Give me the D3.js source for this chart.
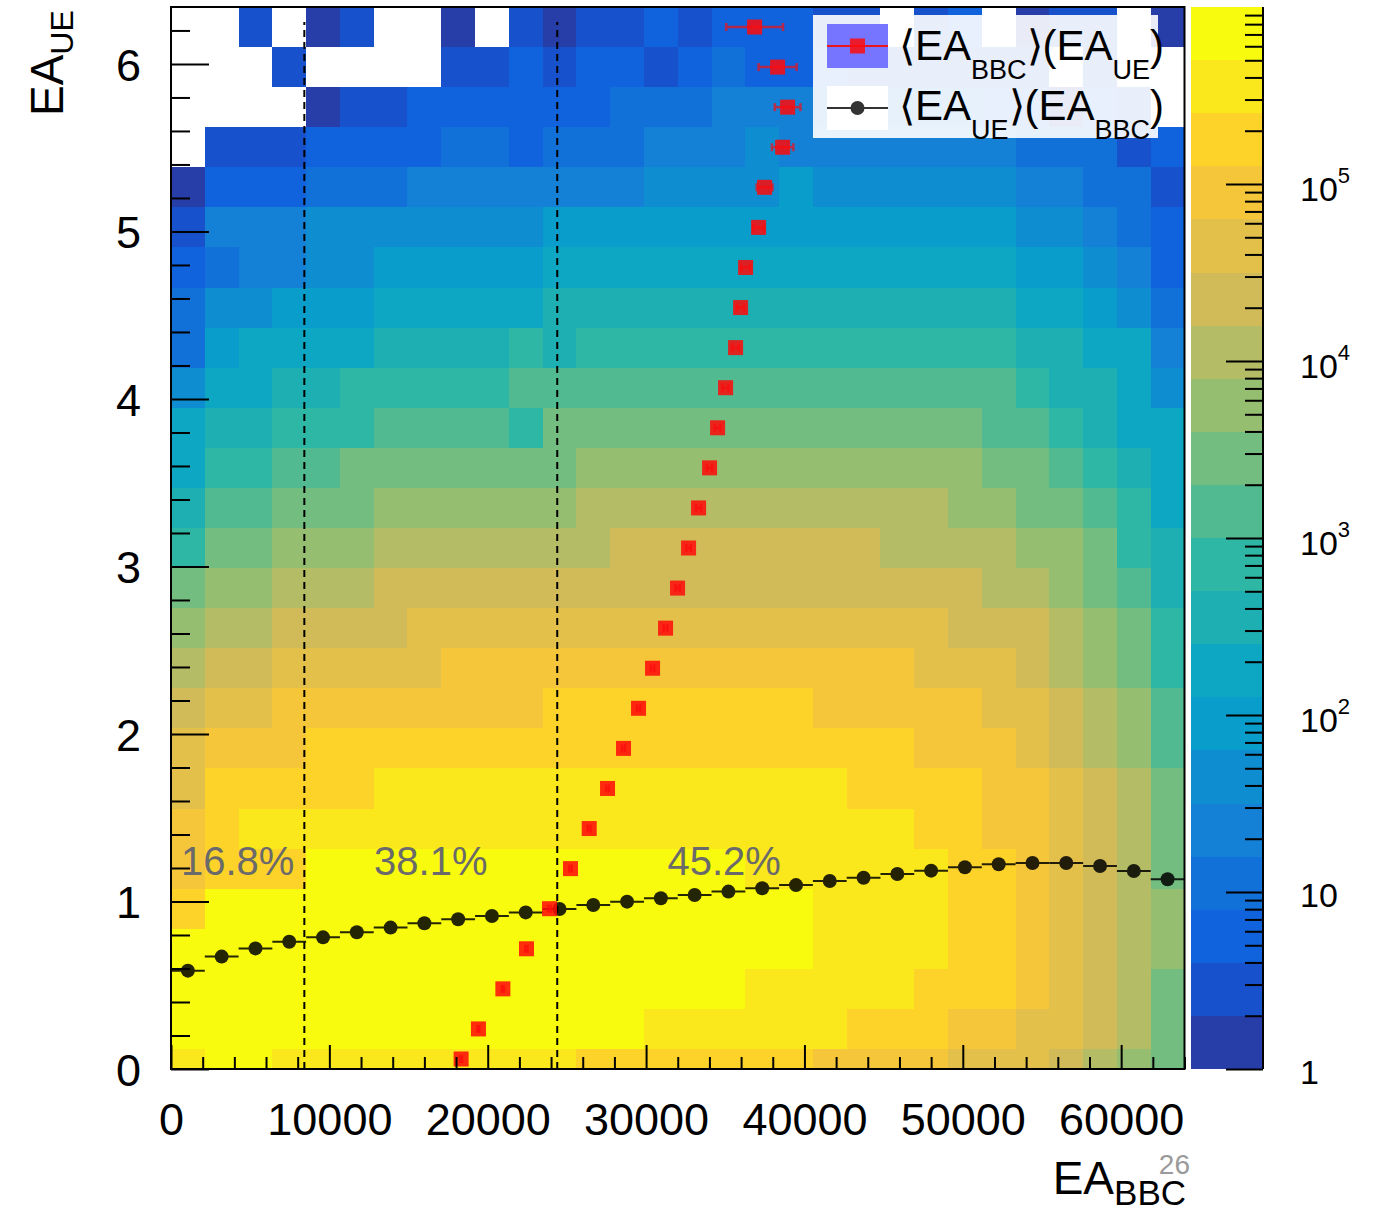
<!DOCTYPE html>
<html><head><meta charset="utf-8">
<script src="https://cdn.jsdelivr.net/npm/d3@7"></script>
<style>body{margin:0;background:#fff} svg{display:block}</style>
</head><body>
<svg id="c" width="1384" height="1213"></svg>
<script>
// ---------------- data ----------------
const xMax = 64000, xBinCount = 30;          // EA_BBC axis, 30 bins
const yMax = 6.34, yBinWidth = 0.23925;      // EA_UE axis (first bin half width)
const xTickValues = [0, 10000, 20000, 30000, 40000, 50000, 60000];
const yTickValues = [0, 1, 2, 3, 4, 5, 6];
const zDecades = [0, 1, 2, 3, 4, 5];
const nContours = 20, zMax = 1e6;

// contour level (0..19) of each cell, rows from top (highest EA_UE) to bottom; null = empty
const n = null;
const cellLevels = [
 [n,n,1,n,0,1,n,n,0,n, 1,0,1,1,2,1,2,2,2,1, 1,n,1,2,n,0,1,1,n,0],
 [n,n,n,1,n,n,n,n,1,1, 2,1,2,2,1,2,3,2,2,2, 1,1,1,1,1,1,n,1,n,n],
 [n,n,n,n,0,1,1,2,2,2, 2,2,2,3,3,3,4,4,4,3, 3,3,3,3,2,2,0,2,1,n],
 [n,1,1,1,2,2,2,2,3,3, 2,3,3,3,4,4,4,5,4,4, 4,4,4,4,4,3,3,3,1,2],
 [0,2,2,2,3,3,3,4,4,4, 4,4,4,4,5,5,5,5,6,5, 5,5,5,5,5,4,4,3,3,1],
 [1,4,4,4,5,5,5,5,5,5, 5,6,6,6,6,6,6,6,6,6, 6,6,6,6,6,5,5,4,3,2],
 [2,3,4,4,5,5,6,6,6,6, 6,7,7,7,7,7,7,7,7,7, 7,7,7,7,7,6,6,5,4,2],
 [3,5,5,6,6,6,7,7,7,7, 7,8,8,8,8,8,8,8,8,8, 8,8,8,8,8,7,7,6,5,3],
 [3,6,7,7,7,7,8,8,8,8, 9,8,9,9,9,9,9,9,9,9, 9,9,9,9,9,8,8,7,7,4],
 [5,7,7,8,8,9,9,9,9,9, 10,10,10,10,10,10,10,10,10,10, 10,10,10,10,10,9,8,8,7,5],
 [7,8,8,9,9,9,10,10,10,10, 9,11,11,11,11,11,11,11,11,11, 11,11,11,11,10,10,9,8,7,7],
 [7,9,9,10,10,11,11,11,11,11, 11,11,12,12,12,12,12,12,12,12, 12,12,12,12,11,11,10,9,8,7],
 [8,10,10,11,11,11,12,12,12,12, 12,12,13,13,13,13,13,13,13,13, 13,13,13,12,12,11,11,10,9,7],
 [9,11,11,12,12,12,13,13,13,13, 13,13,13,14,14,14,14,14,14,14, 14,13,13,13,13,12,12,11,9,8],
 [11,12,12,13,13,13,14,14,14,14, 14,14,14,14,14,14,14,14,14,14, 14,14,14,14,13,13,12,11,10,8],
 [12,13,13,14,14,14,14,15,15,15, 15,15,15,15,15,15,15,15,15,15, 15,15,15,14,14,14,13,12,11,9],
 [13,14,14,15,15,15,15,15,16,16, 16,16,16,16,16,16,16,16,16,16, 16,16,15,15,15,14,13,12,11,9],
 [14,15,15,16,16,16,16,16,16,16, 16,17,17,17,17,17,17,17,17,16, 16,16,16,16,15,15,14,13,12,10],
 [15,16,16,16,17,17,17,17,17,17, 17,17,17,17,17,17,17,17,17,17, 17,17,16,16,16,15,14,13,12,10],
 [15,17,17,17,17,17,18,18,18,18, 18,18,18,18,18,18,18,18,18,18, 17,17,17,17,16,16,15,14,13,11],
 [16,17,18,18,18,18,18,18,18,18, 18,18,18,18,18,18,18,18,18,18, 18,18,17,17,16,16,15,14,13,11],
 [16,17,17,17,19,19,19,19,19,19, 19,19,19,19,19,19,19,18,18,18, 18,18,18,17,17,16,15,14,13,11],
 [17,19,19,19,19,19,19,19,19,19, 19,19,19,19,19,19,19,19,19,18, 18,18,18,17,17,16,15,14,13,12],
 [19,19,19,19,19,19,19,19,19,19, 19,19,19,19,19,19,19,19,19,18, 18,18,18,17,17,16,15,14,13,12],
 [19,19,19,19,19,19,19,19,19,19, 19,19,19,19,19,19,19,18,18,18, 18,18,17,17,17,16,15,14,13,11],
 [19,19,19,19,19,19,19,19,19,19, 19,19,19,19,18,18,18,18,18,18, 17,17,17,16,16,15,15,14,13,11],
 [18,19,19,18,18,18,18,18,18,18, 18,18,17,17,17,17,17,17,17,16, 16,16,16,15,15,15,14,13,12,11]
];

// <EA_UE>(EA_BBC): one value per EA_BBC bin
const ueMean = [0.587,0.671,0.720,0.760,0.786,0.816,0.844,0.870,0.894,0.913,
                0.935,0.955,0.979,0.999,1.019,1.039,1.059,1.079,1.098,1.122,
                1.142,1.164,1.184,1.204,1.222,1.230,1.230,1.212,1.182,1.133];

// <EA_BBC>(EA_UE): one value per EA_UE bin (bottom to top) and its error
const bbcMean = [18320,19415,20957,22448,23901,25228,26409,27566,28576,29524,
                 30409,31230,31988,32683,33315,34010,34516,35021,35653,35969,
                 36285,37106,37485,38622,38938,38306,36853];
const bbcErr  = [60,60,70,70,80,80,90,90,100,100,110,120,130,140,150,160,170,190,
                 210,240,280,330,500,674,810,1200,1790];

const cutValues = [8420, 24390];
const cutTop = 6.25;
const pctLabels = ["16.8%", "38.1%", "45.2%"];
const pctX = [4210, 16405, 34930];
const pctY = 1.158;

// ---------------- palette (ROOT kBird) ----------------
const stops = [0,0.125,0.25,0.375,0.5,0.625,0.75,0.875,1];
const pr = [0.2082,0.0592,0.0780,0.0232,0.1802,0.5301,0.8186,0.9956,0.9764];
const pg = [0.1664,0.3599,0.5041,0.6419,0.7178,0.7492,0.7328,0.7862,0.9832];
const pb = [0.5293,0.8684,0.8385,0.7914,0.6425,0.4662,0.3499,0.1968,0.0539];
const bird = d3.scaleLinear().domain(stops)
  .range(stops.map((s,i)=>d3.rgb(pr[i]*255,pg[i]*255,pb[i]*255)))
  .interpolate(d3.interpolateRgb);
const levelColor = i => bird(Math.floor((i+0.99)*255/nContours)/254);

// ---------------- layout ----------------
const svg = d3.select('#c');
const FONT = "'Liberation Sans', Arial, Helvetica, sans-serif";
const P = {l:171, r:1184.5, t:7, b:1069};
const x = d3.scaleLinear().domain([0, xMax]).range([P.l, P.r]);
const y = d3.scaleLinear().domain([0, yMax]).range([P.b, P.t]);
const xEdges = d3.range(xBinCount+1).map(i => i*xMax/xBinCount);
const nY = cellLevels.length;
const yEdges = [0, ...d3.range(nY).map(k => (k+0.5)*yBinWidth)];
const zScale = d3.scaleLog().domain([1, zMax]).range([0, nContours]);

// cells
const cells = [];
cellLevels.forEach((row, i) => {
  const r = nY-1-i;
  row.forEach((L, c) => { if (L !== null) cells.push({r, c, z: Math.pow(10, (L+0.5)*6/nContours)}); });
});
svg.append('g').selectAll('rect').data(cells).join('rect')
  .attr('x', d => x(xEdges[d.c])).attr('width', d => x(xEdges[d.c+1]) - x(xEdges[d.c]))
  .attr('y', d => y(yEdges[d.r+1])).attr('height', d => y(yEdges[d.r]) - y(yEdges[d.r+1]))
  .attr('fill', d => levelColor(Math.min(nContours-1, Math.floor(zScale(d.z)))))
  .attr('shape-rendering','crispEdges');

// dashed cut lines
svg.append('g').selectAll('line').data(cutValues).join('line')
  .attr('x1', d=>x(d)).attr('x2', d=>x(d)).attr('y1', y(0)).attr('y2', y(cutTop))
  .attr('stroke','#000').attr('stroke-width',2).attr('stroke-dasharray','7,5');

// percent labels
svg.append('g').selectAll('text').data(pctLabels).join('text')
  .attr('x', (d,i)=>x(pctX[i])).attr('y', y(pctY)).attr('text-anchor','middle')
  .attr('font-family', FONT).attr('font-size', 40).attr('fill', '#6a6a6a').text(d=>d);

// black profile
const gB = svg.append('g').attr('opacity', 0.85);
gB.selectAll('line').data(ueMean).join('line')
  .attr('x1', (d,i)=>x(xEdges[i])).attr('x2', (d,i)=>x(xEdges[i+1]))
  .attr('y1', d=>y(d)).attr('y2', d=>y(d)).attr('stroke','#000').attr('stroke-width',2);
gB.selectAll('circle').data(ueMean).join('circle')
  .attr('cx', (d,i)=>x((xEdges[i]+xEdges[i+1])/2)).attr('cy', d=>y(d)).attr('r', 7).attr('fill','#000');

// red profile
const yCenters = d3.range(nY).map(k => (yEdges[k]+yEdges[k+1])/2);
const gR = svg.append('g');
const eb = gR.append('g').attr('stroke','#e8141e').attr('stroke-width',2.5).attr('opacity',0.75);
bbcMean.forEach((m,k) => {
  const yy = y(yCenters[k]), x1 = x(m-bbcErr[k]), x2 = x(m+bbcErr[k]);
  eb.append('line').attr('x1',x1).attr('x2',x2).attr('y1',yy).attr('y2',yy);
  eb.append('line').attr('x1',x1).attr('x2',x1).attr('y1',yy-4).attr('y2',yy+4);
  eb.append('line').attr('x1',x2).attr('x2',x2).attr('y1',yy-4).attr('y2',yy+4);
});
gR.append('g').attr('opacity',0.85).selectAll('rect').data(bbcMean).join('rect')
  .attr('x', d=>x(d)-7.5).attr('y', (d,k)=>y(yCenters[k])-7.5).attr('width',15).attr('height',15)
  .attr('fill','#ff0a0a');

// frame
svg.append('rect').attr('x',P.l).attr('y',P.t).attr('width',P.r-P.l).attr('height',P.b-P.t)
  .attr('fill','none').attr('stroke','#000').attr('stroke-width',2);

// axes
function styleAxis(g){ g.select('.domain').remove(); g.selectAll('line').attr('stroke','#000').attr('stroke-width',2);
  g.selectAll('text').attr('font-family',FONT).attr('font-size',45).attr('fill','#000'); }
const xMinor = d3.range(0, xMax+1, 2000).filter(v => v % 10000 !== 0);
svg.append('g').attr('transform',`translate(0,${P.b})`)
  .call(d3.axisBottom(x).tickValues(xMinor).tickSize(-12).tickFormat('')).call(styleAxis);
svg.append('g').attr('transform',`translate(0,${P.b})`)
  .call(d3.axisBottom(x).tickValues(xTickValues).tickSize(-24).tickPadding(34).tickFormat(d3.format('d'))).call(styleAxis);
const yMinor = d3.range(0, 6.3, 0.2).filter(v => Math.abs(v-Math.round(v))>1e-6);
svg.append('g').attr('transform',`translate(${P.l},0)`)
  .call(d3.axisLeft(y).tickValues(yMinor).tickSize(-19).tickFormat('')).call(styleAxis);
const gy = svg.append('g').attr('transform',`translate(${P.l},0)`)
  .call(d3.axisLeft(y).tickValues(yTickValues).tickSize(-38).tickPadding(30).tickFormat(d3.format('d'))).call(styleAxis);
gy.selectAll('text').attr('dy','0.36em');

// axis titles
const xt = svg.append('text').attr('x',1186).attr('y',1194).attr('text-anchor','end')
  .attr('font-family',FONT).attr('font-size',46);
xt.append('tspan').text('EA');
xt.append('tspan').attr('font-size',35).attr('dy',11).text('BBC');
svg.append('text').attr('x',1190).attr('y',1174).attr('text-anchor','end')
  .attr('font-family',FONT).attr('font-size',28).attr('fill','#9a9a9a').text('26');
const yt = svg.append('text').attr('transform','translate(63,116) rotate(-90)')
  .attr('font-family',FONT).attr('font-size',46);
yt.append('tspan').text('EA');
yt.append('tspan').attr('font-size',32).attr('dy',10).text('UE');

// color bar
const CB = {l:1191, r:1263};
const zy = d3.scaleLog().domain([1, zMax]).range([P.b, P.t]);
const bands = d3.range(nContours);
svg.append('g').selectAll('rect').data(bands).join('rect')
  .attr('x',CB.l).attr('width',CB.r-CB.l)
  .attr('y', i=>zy(Math.pow(10,(i+1)*6/nContours))).attr('height', i=>zy(Math.pow(10,i*6/nContours))-zy(Math.pow(10,(i+1)*6/nContours)))
  .attr('fill', i=>levelColor(i)).attr('shape-rendering','crispEdges');
const zMinor = [];
zDecades.forEach(k => { for (let m=2;m<=9;m++) zMinor.push(m*Math.pow(10,k)); });
svg.append('g').attr('transform',`translate(${CB.r},0)`)
  .call(d3.axisRight(zy).tickValues(zMinor).tickSize(-18).tickFormat('')).call(styleAxis);
svg.append('g').attr('transform',`translate(${CB.r},0)`)
  .call(d3.axisRight(zy).tickValues(zDecades.map(k=>Math.pow(10,k))).tickSize(-37).tickFormat('')).call(styleAxis);
svg.append('line').attr('x1',CB.r).attr('x2',CB.r).attr('y1',P.t).attr('y2',P.b).attr('stroke','#000').attr('stroke-width',2);
const zl = svg.append('g').attr('font-family',FONT).attr('font-size',34);
zDecades.forEach(k => {
  const t = zl.append('text').attr('x',1300).attr('y', zy(Math.pow(10,k)) + (k<2?15:17));
  if (k===0) t.text('1');
  else if (k===1) t.text('10');
  else { t.append('tspan').text('10'); t.append('tspan').attr('font-size',22).attr('dy',-18).text(String(k)); }
});

// legend
const lg = svg.append('g');
lg.append('rect').attr('x',813).attr('y',15).attr('width',345).attr('height',123).attr('fill','#fff').attr('opacity',0.9);
lg.append('rect').attr('x',827).attr('y',24).attr('width',61).attr('height',44).attr('fill','#7575ff');
lg.append('line').attr('x1',827).attr('x2',888).attr('y1',46).attr('y2',46).attr('stroke','#e8141e').attr('stroke-width',2);
lg.append('rect').attr('x',850).attr('y',38.5).attr('width',15).attr('height',15).attr('fill','#ff0a0a').attr('opacity',0.85);
lg.append('rect').attr('x',827).attr('y',86).attr('width',61).attr('height',44).attr('fill','#fff');
lg.append('line').attr('x1',827).attr('x2',888).attr('y1',108).attr('y2',108).attr('stroke','#333').attr('stroke-width',2);
lg.append('circle').attr('cx',857.5).attr('cy',108).attr('r',7).attr('fill','#333');
function legendText(yb, a, b){
  const t = lg.append('text').attr('x',899).attr('y',yb).attr('font-family',FONT).attr('font-size',42);
  t.append('tspan').text('\u27E8EA');
  t.append('tspan').attr('font-size',27).attr('dy',19).text(a);
  t.append('tspan').attr('dy',-19).text('\u27E9(EA');
  t.append('tspan').attr('font-size',27).attr('dy',19).text(b);
  t.append('tspan').attr('dy',-19).text(')');
}
legendText(60, 'BBC', 'UE');
legendText(120, 'UE', 'BBC');
</script>
</body></html>
